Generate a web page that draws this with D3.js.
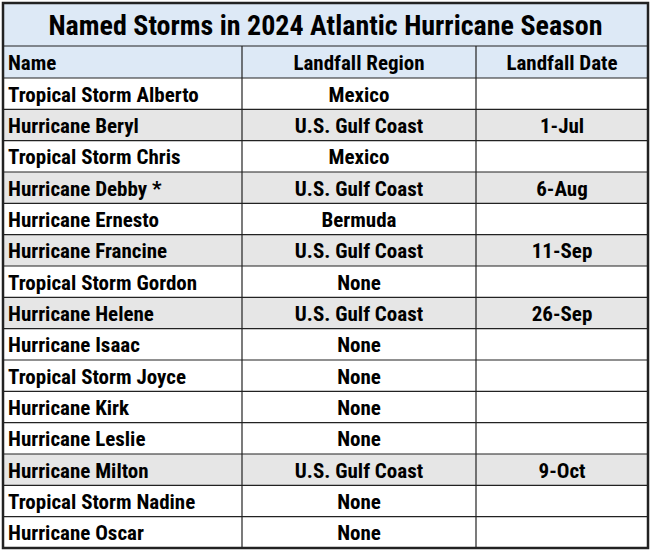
<!DOCTYPE html><html><head><meta charset="utf-8"><script src="https://cdn.jsdelivr.net/npm/d3@7"></script>
<style>body{margin:0;background:#fff}</style></head><body><svg id="c" width="650" height="550"></svg>
<script>
const title = "Named Storms in 2024 Atlantic Hurricane Season";
const headers = ["Name", "Landfall Region", "Landfall Date"];
const names = ["Tropical Storm Alberto","Hurricane Beryl","Tropical Storm Chris","Hurricane Debby *","Hurricane Ernesto","Hurricane Francine","Tropical Storm Gordon","Hurricane Helene","Hurricane Isaac","Tropical Storm Joyce","Hurricane Kirk","Hurricane Leslie","Hurricane Milton","Tropical Storm Nadine","Hurricane Oscar"];
const regions = ["Mexico","U.S. Gulf Coast","Mexico","U.S. Gulf Coast","Bermuda","U.S. Gulf Coast","None","U.S. Gulf Coast","None","None","None","None","U.S. Gulf Coast","None","None"];
const dates = ["","1-Jul","","6-Aug","","11-Sep","","26-Sep","","","","","9-Oct","",""];

const svg = d3.select("#c");
const font = "'Liberation Sans Narrow','Roboto Condensed',Arial Narrow,sans-serif";
const x0 = 3, x1 = 648;
const colEdges = [x0, 242, 476, x1];
const titleTop = 3, titleH = 43, headH = 32;
const bodyTop = titleTop + titleH + headH;
const y = d3.scaleBand().domain(d3.range(names.length)).range([bodyTop, 548]);
const blue = "#dde9f6", grey = "#e6e6e6";

svg.append("rect").attr("x",x0).attr("y",titleTop).attr("width",x1-x0).attr("height",titleH+headH).attr("fill",blue);
svg.selectAll("rect.row").data(names).join("rect").attr("class","row")
  .attr("x",x0).attr("y",(d,i)=>y(i)).attr("width",x1-x0).attr("height",y.bandwidth())
  .attr("fill",(d,i)=>regions[i]==="U.S. Gulf Coast"?grey:"#fff");

svg.append("text").attr("x",(x0+x1)/2).attr("y",titleTop+titleH/2+1).attr("text-anchor","middle")
  .attr("dominant-baseline","central").attr("font-family",font).attr("font-weight","bold").attr("font-size",28).text(title);

const anchors = ["start","middle","middle"];
const tx = i => i===0 ? colEdges[0]+5 : (colEdges[i]+colEdges[i+1])/2;
headers.forEach((h,i)=>{
  svg.append("text").attr("x",tx(i)).attr("y",titleTop+titleH+headH/2+1).attr("text-anchor",anchors[i])
    .attr("dominant-baseline","central").attr("font-family",font).attr("font-weight","bold").attr("font-size",21).text(h);
});
[names,regions,dates].forEach((col,ci)=>{
  svg.selectAll("text.c"+ci).data(col).join("text").attr("class","c"+ci)
    .attr("x",tx(ci)).attr("y",(d,i)=>y(i)+y.bandwidth()/2+1).attr("text-anchor",anchors[ci])
    .attr("dominant-baseline","central").attr("font-family",font).attr("font-weight","bold").attr("font-size",21).text(d=>d);
});

const g = svg.append("g").attr("stroke","#222").attr("stroke-width",1.2);
[titleTop+titleH, bodyTop].concat(d3.range(1,names.length).map(i=>y(i))).forEach(v=>{
  g.append("line").attr("x1",x0).attr("x2",x1).attr("y1",v).attr("y2",v);
});
colEdges.slice(1,3).forEach(v=>{
  g.append("line").attr("x1",v).attr("x2",v).attr("y1",titleTop+titleH).attr("y2",548);
});
svg.append("rect").attr("x",x0).attr("y",titleTop).attr("width",x1-x0).attr("height",548-titleTop)
  .attr("fill","none").attr("stroke","#222").attr("stroke-width",2.5);
</script></body></html>
